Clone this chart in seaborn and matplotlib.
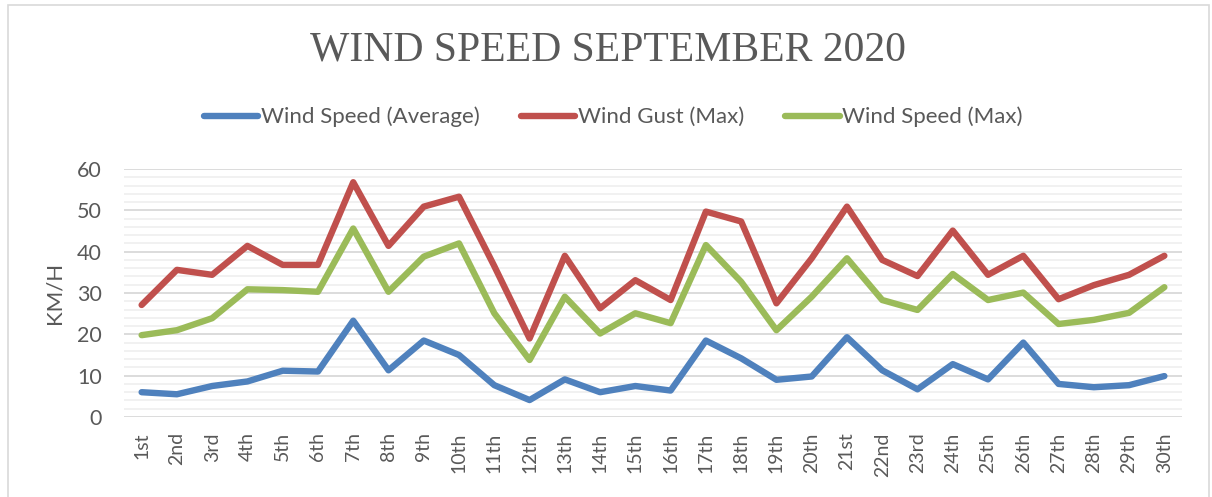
import pandas as pd
import matplotlib
matplotlib.use("Agg")
import matplotlib.pyplot as plt
import matplotlib.ticker as mticker
from matplotlib.patches import Rectangle
import seaborn as sns

days = ['1st', '2nd', '3rd', '4th', '5th', '6th', '7th', '8th', '9th', '10th',
        '11th', '12th', '13th', '14th', '15th', '16th', '17th', '18th', '19th', '20th',
        '21st', '22nd', '23rd', '24th', '25th', '26th', '27th', '28th', '29th', '30th']

wind_avg = [6.0, 5.5, 7.5, 8.6, 11.2, 11.0, 23.3, 11.3, 18.5, 15.0,
            7.7, 4.1, 9.1, 6.0, 7.5, 6.4, 18.5, 14.2, 9.0, 9.8,
            19.3, 11.3, 6.7, 12.8, 9.1, 18.0, 8.0, 7.2, 7.7, 9.9]
wind_gust = [27.1, 35.6, 34.4, 41.4, 36.8, 36.8, 56.8, 41.4, 50.9, 53.3,
             36.5, 19.0, 39.0, 26.3, 33.1, 28.3, 49.7, 47.3, 27.5, 38.4,
             50.9, 38.0, 34.1, 45.1, 34.4, 39.0, 28.5, 31.9, 34.4, 39.0]
wind_max = [19.8, 21.0, 23.9, 30.9, 30.7, 30.3, 45.6, 30.3, 38.8, 42.0,
            25.1, 13.8, 29.1, 20.2, 25.1, 22.7, 41.6, 32.7, 21.0, 29.1,
            38.4, 28.3, 25.9, 34.6, 28.3, 30.1, 22.5, 23.5, 25.2, 31.4]

series_names = ['Wind Speed (Average)', 'Wind Gust (Max)', 'Wind Speed (Max)']
colors = ['#4F81BD', '#C0504D', '#9BBB59']

frames = []
for name, vals in zip(series_names, [wind_avg, wind_gust, wind_max]):
    frames.append(pd.DataFrame({'Day': days, 'Speed': vals, 'Series': name}))
df = pd.concat(frames, ignore_index=True)

sns.set_style("white")
plt.rcParams['font.family'] = ['Lato', 'DejaVu Sans']
gray = '#595959'

fig = plt.figure(figsize=(12.12, 4.97), dpi=100)
ax = fig.add_axes([124 / 1212, 1 - 417 / 497, (1182 - 124) / 1212, (417 - 169) / 497])

sns.lineplot(data=df, x='Day', y='Speed', hue='Series', palette=colors,
             sort=False, linewidth=4.6, ax=ax, legend=True)
for line in ax.get_lines():
    line.set_solid_capstyle('round')
    line.set_solid_joinstyle('round')

ax.set_xlim(-0.5, len(days) - 0.5)
ax.set_ylim(0, 60)
ax.yaxis.set_major_locator(mticker.MultipleLocator(10))
ax.yaxis.set_minor_locator(mticker.MultipleLocator(2))
ax.grid(which='major', axis='y', color='#D9D9D9', linewidth=1.3, zorder=0)
ax.grid(which='minor', axis='y', color='#F0F0F0', linewidth=1.3, zorder=0)
ax.set_axisbelow(True)
for s in ax.spines.values():
    s.set_visible(False)

ax.set_xticks(range(len(days)))
ax.set_xticklabels(days, rotation=90, fontsize=14, color=gray)
ax.tick_params(axis='x', length=0, pad=11)
ax.tick_params(axis='y', which='both', length=0, pad=16, labelsize=15.5, labelcolor=gray)
ax.set_xlabel('')
ax.set_ylabel('KM/H', fontsize=16, color=gray, labelpad=9)

handles, labels = ax.get_legend_handles_labels()
ax.legend_.remove()
leg = fig.legend(handles, labels, loc='center', bbox_to_anchor=(0.506, 1 - 117 / 497),
                 ncol=3, frameon=False, fontsize=16, handlelength=2.45,
                 handletextpad=0.12, columnspacing=1.85, labelcolor=gray)
for h in leg.get_lines():
    h.set_linewidth(4.6)
    h.set_solid_capstyle('round')

fig.text(0.502, 1 - 50 / 497, 'WIND SPEED SEPTEMBER 2020', ha='center', va='center',
         fontsize=30, color=gray, family=['Liberation Serif'])

fig.patches.append(Rectangle((8 / 1212, -0.02), (1209 - 8) / 1212, 1 - 5 / 497 + 0.02,
                             transform=fig.transFigure, fill=False,
                             edgecolor='#D9D9D9', linewidth=1.2))

fig.savefig('out.png', dpi=100)
